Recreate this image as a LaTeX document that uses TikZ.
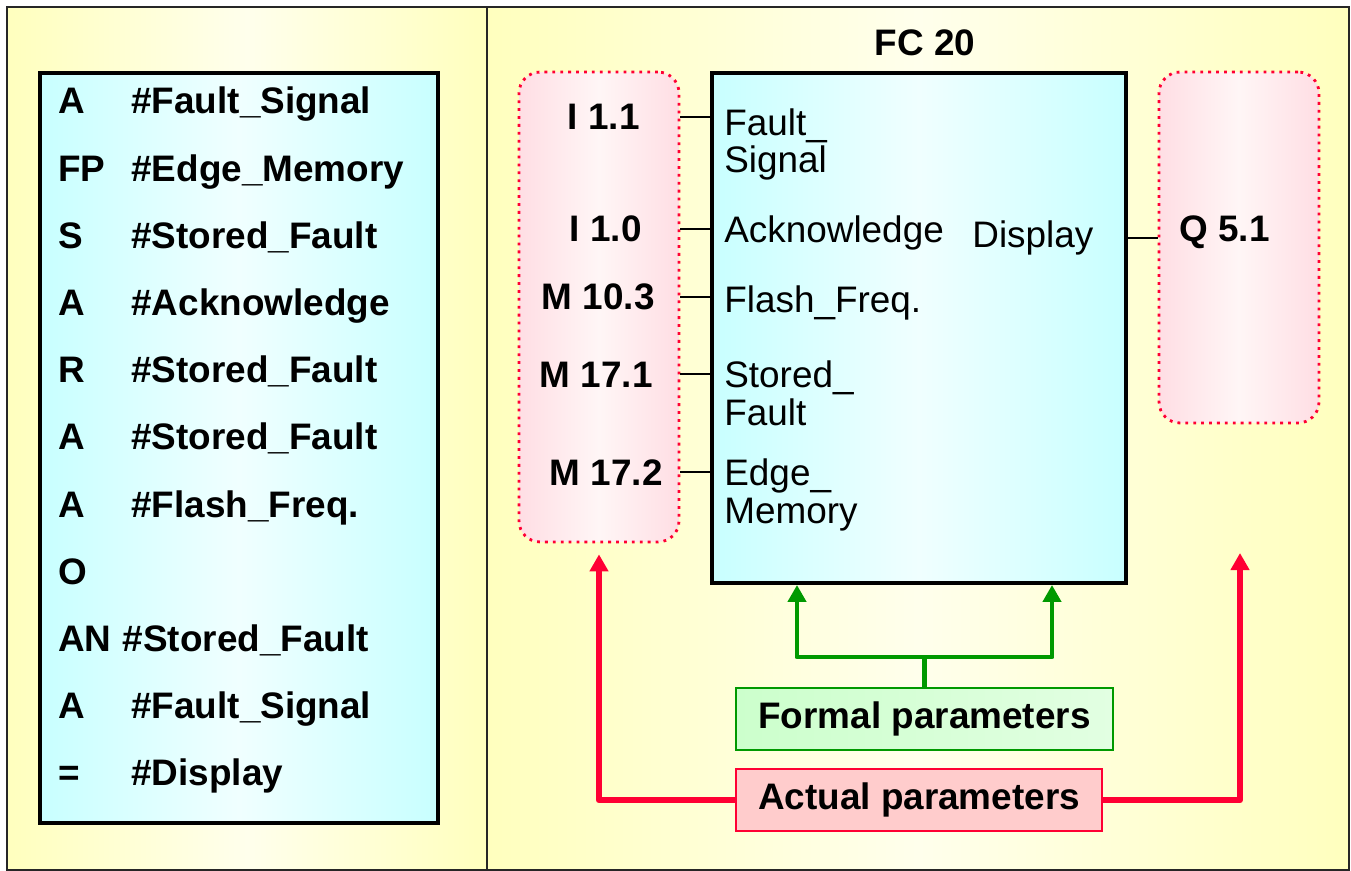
\documentclass[tikz,border=0pt]{standalone}
\usepackage{fontspec}
\setmainfont{Liberation Sans}
\usepackage{tikz}
\usetikzlibrary{positioning,arrows.meta}
\definecolor{yelpanel}{RGB}{255,255,190}
\definecolor{yelmid}{RGB}{255,255,236}
\definecolor{cyanbox}{RGB}{200,255,255}
\definecolor{cyanmid}{RGB}{240,255,255}
\definecolor{pinkbox}{RGB}{255,222,228}
\definecolor{pinkmid}{RGB}{255,246,246}
\definecolor{redline}{RGB}{255,0,51}
\definecolor{greenline}{RGB}{0,153,0}
\definecolor{greenfill}{RGB}{204,255,204}
\definecolor{greenfillb}{RGB}{226,255,226}
\definecolor{redfill}{RGB}{255,204,204}

\begin{document}
\begin{tikzpicture}[x=0.02cm,y=-0.02cm,
  codeop/.style={anchor=west,inner sep=0pt,font=\fontsize{21}{25}\selectfont\bfseries,text height=0.55cm,text depth=0.15cm},
  codebox/.style={draw,line width=2.3pt,left color=cyanbox,right color=cyanbox,middle color=cyanmid,minimum width=7.96cm,minimum height=15cm,inner sep=0pt},
  fcbox/.style={draw,line width=2.3pt,left color=cyanbox,right color=cyanbox,middle color=cyanmid,minimum width=8.28cm,minimum height=10.2cm,inner sep=0pt},
  actbox/.style={draw=redline,line width=1.6pt,dash pattern=on 1.6pt off 2.9pt,rounded corners=0.42cm,left color=pinkbox,right color=pinkbox,middle color=pinkmid,minimum width=3.2cm,inner sep=0pt},
  pinlab/.style={inner sep=0pt,font=\fontsize{21}{25}\selectfont\bfseries},
  fname/.style={inner sep=0pt,anchor=base west,align=left,font=\fontsize{21}{21.6}\selectfont},
  pinline/.style={line width=1.1pt},
  parambox/.style={line width=1.3pt,minimum height=1.24cm,inner sep=0pt,font=\fontsize{21}{25}\selectfont\bfseries},
  garrow/.style={greenline,line width=2.8pt,line join=round,{Triangle[width=0.36cm,length=0.34cm]}-{Triangle[width=0.36cm,length=0.34cm]}},
  rarrow/.style={redline,line width=3.4pt,line join=round,-{Triangle[width=0.36cm,length=0.34cm]}},
 ]
\useasboundingbox (0,0) rectangle (1351,871);

% panels
\fill[left color=yelpanel,right color=yelpanel,middle color=yelmid] (7,7) rectangle (487,870);
\fill[left color=yelpanel,right color=yelpanel,middle color=yelmid] (487,7) rectangle (1349,870);
\draw[black!85,line width=1.2pt] (7,7) rectangle (1349,870);
\draw[black!85,line width=1.2pt] (487,7) -- (487,870);

% STL listing
\node[codebox] (code) at (239,448) {};

\node[codeop] (C1) at (58,104) {A};
\node[codeop, below=1.344cm of C1.west, anchor=west] (C2) {FP};
\node[codeop, below=1.344cm of C2.west, anchor=west] (C3) {S};
\node[codeop, below=1.344cm of C3.west, anchor=west] (C4) {A};
\node[codeop, below=1.344cm of C4.west, anchor=west] (C5) {R};
\node[codeop, below=1.344cm of C5.west, anchor=west] (C6) {A};
\node[codeop, below=1.344cm of C6.west, anchor=west] (C7) {A};
\node[codeop, below=1.344cm of C7.west, anchor=west] (C8) {O};
\node[codeop, below=1.344cm of C8.west, anchor=west] (C9) {AN};
\node[codeop, below=1.344cm of C9.west, anchor=west] (C10) {A};
\node[codeop, below=1.344cm of C10.west, anchor=west] (C11) {=};

\node[codeop] (A1) at (C1.west -| 131,0) {\#Fault\_Signal};
\node[codeop] (A2) at (C2.west -| A1.west) {\#Edge\_Memory};
\node[codeop] (A3) at (C3.west -| A1.west) {\#Stored\_Fault};
\node[codeop] (A4) at (C4.west -| A1.west) {\#Acknowledge};
\node[codeop] (A5) at (C5.west -| A1.west) {\#Stored\_Fault};
\node[codeop] (A6) at (C6.west -| A1.west) {\#Stored\_Fault};
\node[codeop] (A7) at (C7.west -| A1.west) {\#Flash\_Freq.};
\node[codeop, right=0.21cm of C9] (A9) {\#Stored\_Fault};
\node[codeop] (A10) at (C10.west -| A1.west) {\#Fault\_Signal};
\node[codeop] (A11) at (C11.west -| A1.west) {\#Display};

% block FC 20 with its parameters
\node[fcbox] (fc) at (919,328) {};
\node[pinlab, anchor=base] (title) at (925,56) {FC 20};

\node[actbox, minimum height=9.4cm] (actL) at (599,307) {};
\node[actbox, minimum height=7.02cm] (actR) at (1239,247.5) {};

\node[pinlab, anchor=base east] (I11) at (640,130) {I 1.1};
\node[pinlab, anchor=base east] (I10) at (642,242) {I 1.0};
\node[pinlab, anchor=base east] (M103) at (655,310) {M 10.3};
\node[pinlab, anchor=base east] (M171) at (653,387) {M 17.1};
\node[pinlab, anchor=base east] (M172) at (663,485) {M 17.2};
\node[pinlab, anchor=base west] (Q51) at (1179,242) {Q 5.1};

\node[fname] (Fsig) at (724,173) {Fault\_\\Signal};
\node[fname] (Fack) at (724,243) {Acknowledge};
\node[fname] (Fflash) at (724,313) {Flash\_Freq.};
\node[fname] (Fstored) at (724,425) {Stored\_\\Fault};
\node[fname] (Fedge) at (724,523) {Edge\_\\Memory};
\node[fname] (Fdisp) at (972,248) {Display};

\path[pinline]
(actL.east |- I11) edge (fc.west |- I11)
(actL.east |- I10) edge (fc.west |- I10)
(actL.east |- M103) edge (fc.west |- M103)
(actL.east |- M171) edge (fc.west |- M171)
(actL.east |- M172) edge (fc.west |- M172)
(fc.east |- Fdisp) edge (actR.west |- Fdisp);

% legend boxes
\node[parambox, draw=greenline, left color=greenfill, right color=greenfillb, minimum width=7.54cm] (formal) at (924.5,719) {Formal parameters};
\node[parambox, draw=redline, fill=redfill, minimum width=7.32cm, below=0.34cm of formal.south west, anchor=north west] (actual) {Actual parameters};

\coordinate (gl) at (797,657);
\coordinate (gr) at (1052,657);
\coordinate (qtip) at (1240,553);

\draw[garrow] (gl |- fc.south) -- (gl) -- (gr) -- (gr |- fc.south);
\draw[greenline, line width=2.8pt] (formal.north) -- (formal.north |- gl);

\draw[rarrow, shorten >=0.22cm] (actual.west) -| (actL.south);
\draw[rarrow] (actual.east) -| (qtip);

\end{tikzpicture}
\end{document}
